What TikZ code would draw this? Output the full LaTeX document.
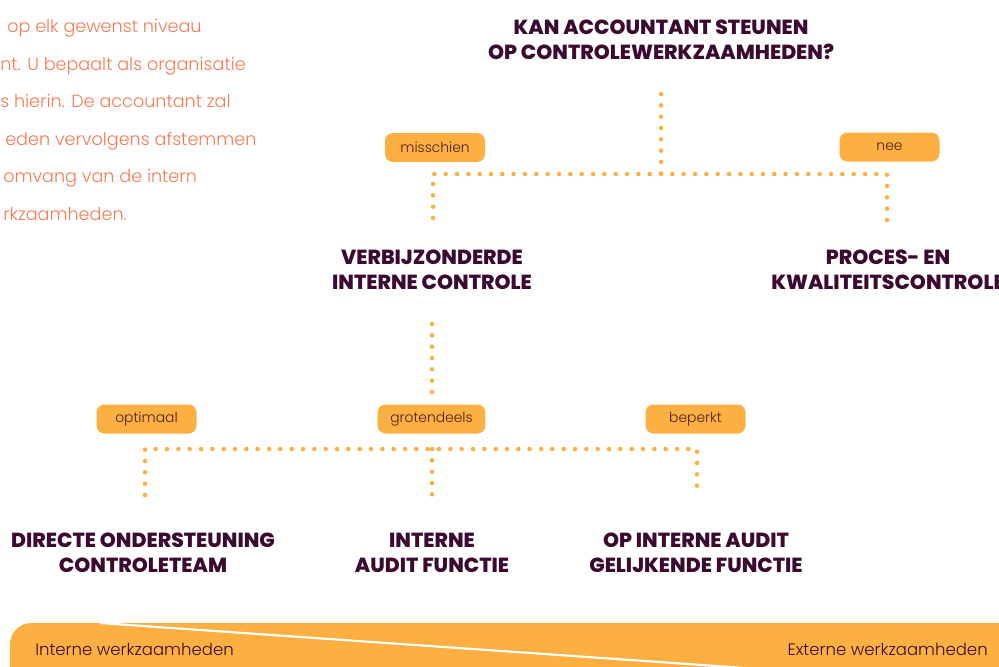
\documentclass[tikz,border=0pt]{standalone}
\usepackage{fontspec}
\setmainfont{Poppins}
\newfontfamily\lightfont{Poppins Light}
\newfontfamily\heavyfont{Poppins ExtraBold}
\definecolor{tagorange}{RGB}{251,176,65}
\definecolor{deep}{RGB}{60,10,48}
\definecolor{coral}{RGB}{244,123,86}
\definecolor{tagtext}{RGB}{80,30,35}
\begin{document}
\begin{tikzpicture}[x=0.75pt,y=-0.75pt,
  heading/.style={font=\heavyfont\fontsize{15.3}{18.75}\selectfont, text=deep, align=center, inner sep=0pt},
  tagbox/.style={fill=tagorange, rounded corners=6pt, minimum width=75pt, minimum height=21.75pt, inner xsep=9.5pt, inner ysep=0pt, font=\lightfont\fontsize{10.4}{13}\selectfont, text=tagtext},
  dotline/.style={draw=tagorange, line width=3.4pt, line cap=round, dash pattern=on 0pt off 8.5pt},
  para/.style={anchor=base west, text=coral, font=\lightfont\fontsize{13.2}{15}\selectfont, inner sep=0pt},
  barlabel/.style={text=deep, font=\lightfont\fontsize{12.4}{15}\selectfont, inner sep=0pt}]
\useasboundingbox (0,0) rectangle (999,667);
\clip (0,0) rectangle (999,667);

% paragraph (cut off at the left)
\node[para] (p1) at (7,33) {op elk gewenst niveau};
\node[para] (p2) at (0,70) {nt. U bepaalt als organisatie};
\node[para] (p3) at (0,108) {s hierin. De accountant zal};
\node[para] (p4) at (5,145) {eden vervolgens afstemmen};
\node[para] (p5) at (3,182) {omvang van de intern};
\node[para] (p6) at (3,220) {rkzaamheden.};

% title
\node[heading] (q) at (661,39.5) {KAN ACCOUNTANT STEUNEN\\OP CONTROLEWERKZAAMHEDEN?};
\coordinate (q1) at (661,94);
\coordinate (j1) at (661,174);
\coordinate (l1) at (433,174);
\coordinate (r1) at (887,174);
\coordinate (l1e) at (433,218);
\coordinate (r1e) at (887,220);
\draw[dotline] (q1) -- (j1);
\draw[dotline] (l1e) -- (l1) -- (r1) -- (r1e);
\node[tagbox] (ms) at (435,147.5) {misschien};
\node[tagbox] (ne) at (889.5,147) {nee};

% second level
\node[heading] (vic) at (432,270) {VERBIJZONDERDE\\INTERNE CONTROLE};
\node[heading] (pkc) at (888,270) {PROCES- EN\\KWALITEITSCONTROLE};

\coordinate (v1) at (432,324);
\coordinate (v2) at (432,394);
\draw[dotline] (v1) -- (v2);
\coordinate (l2) at (145,449);
\coordinate (m2) at (432,449);
\coordinate (r2) at (697,449);
\coordinate (l2e) at (145,495);
\coordinate (m2e) at (432,496);
\coordinate (r2e) at (697,496);
\draw[dotline] (l2e) -- (l2) -- (r2) -- (r2e);
\draw[dotline] (m2) -- (m2e);
\node[tagbox] (op) at (146.5,419) {optimaal};
\node[tagbox] (gr) at (431.5,419) {grotendeels};
\node[tagbox] (be) at (695.5,419) {beperkt};

% third level
\node[heading] (dir) at (143,553) {DIRECTE ONDERSTEUNING\\CONTROLETEAM};
\node[heading] (iaf) at (432,553) {INTERNE\\AUDIT FUNCTIE};
\node[heading] (gel) at (696,553) {OP INTERNE AUDIT\\GELIJKENDE FUNCTIE};

% bottom bar
\fill[tagorange, rounded corners=16pt] (10,720) -- (10,623) -- (1040,623) -- (1040,720) -- cycle;
\coordinate (w1) at (100,623);
\coordinate (w2) at (745,668);
\draw[white, line width=1.6pt] (w1) -- (w2);
\node[barlabel, anchor=base west] (int) at (35,655) {Interne werkzaamheden};
\node[barlabel, anchor=base east] (ext) at (988,655) {Externe werkzaamheden};
\end{tikzpicture}
\end{document}
